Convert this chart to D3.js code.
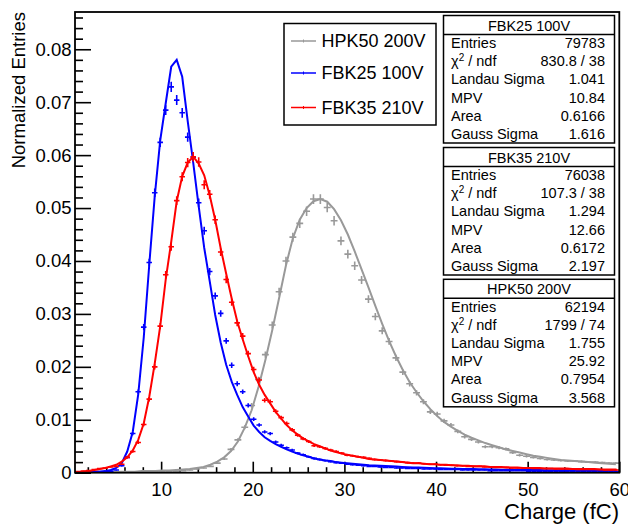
<!DOCTYPE html>
<html><head><meta charset="utf-8">
<script src="https://cdn.jsdelivr.net/npm/d3@7/dist/d3.min.js"></script>
<style>
body{margin:0;background:#fff}
svg{display:block}
text{font-family:"Liberation Sans",Arial,Helvetica,sans-serif;fill:#000}
</style>
</head><body>
<svg id="chart" width="628" height="527"></svg>
<script>
// ---------------- DATA ----------------
const seriesNames = ["HPK50 200V", "FBK25 100V", "FBK35 210V"];
const seriesColors = ["#999999", "#0000ff", "#ff0000"];

// binning (bin centres = low + width*(k+0.5))
const fbkBinLow = 0.6, fbkBinWidth = 0.6, fbkBinCount = 99;
const hpkBinLow = 0.75, hpkBinWidth = 0.75, hpkBinCount = 79;

// FBK25 100V histogram (normalized entries)
const fbk25Data = [
  0.0001,0.0001,0.0001,0.0001,0.0002,0.0002,0.0003,0.0005,0.0013,0.0029,
  0.0074,0.0153,0.0275,0.0397,0.0529,0.0624,0.0685,0.0729,0.0704,0.0680,
  0.0634,0.0596,0.0510,0.0457,0.0380,0.0334,0.0301,0.0249,0.0203,0.0168,
  0.0153,0.0127,0.0101,0.0090,0.0077,0.0074,0.0058,0.0052,0.0047,0.0043,
  0.0037,0.0034,0.0030,0.0027,0.0025,0.0023,0.0021,0.0019,0.0018,0.0016,
  0.0015,0.0014,0.0013,0.0012,0.0012,0.0011,0.0010,0.0010,0.0009,0.0009,
  0.0008,0.0008,0.0008,0.0007,0.0007,0.0007,0.0006,0.0006,0.0006,0.0006,
  0.0005,0.0005,0.0005,0.0005,0.0005,0.0004,0.0004,0.0004,0.0004,0.0004,
  0.0004,0.0004,0.0003,0.0003,0.0003,0.0003,0.0003,0.0003,0.0003,0.0003,
  0.0003,0.0003,0.0003,0.0002,0.0002,0.0002,0.0002,0.0002,0.0002
];
// FBK25 100V fit curve (sampled at bin centres)
const fbk25Fit = [
  0.0001,0.0001,0.0001,0.0002,0.0002,0.0003,0.0005,0.0009,0.0018,0.0040,
  0.0077,0.0148,0.0255,0.0392,0.0522,0.0628,0.0698,0.0767,0.0780,0.0748,
  0.0664,0.0586,0.0503,0.0425,0.0362,0.0298,0.0246,0.0204,0.0172,0.0147,
  0.0124,0.0106,0.0089,0.0077,0.0067,0.0060,0.0054,0.0049,0.0044,0.0040,
  0.0036,0.0033,0.0030,0.0027,0.0025,0.0023,0.0022,0.0020,0.0019,0.0018,
  0.0017,0.0016,0.0015,0.0014,0.00135,0.0013,0.00125,0.0012,0.00115,0.0011,
  0.00105,0.0010,0.00096,0.00092,0.00088,0.00085,0.00082,0.00079,0.00076,0.00074,
  0.00072,0.0007,0.00068,0.00066,0.00064,0.00062,0.0006,0.00058,0.00057,0.00056,
  0.00054,0.00053,0.00052,0.0005,0.00049,0.00048,0.00047,0.00046,0.00045,0.00044,
  0.00043,0.00042,0.00041,0.0004,0.0004,0.00039,0.00038,0.00038,0.00037
];
// FBK35 210V histogram
const fbk35Data = [
  0.0002,0.0003,0.0004,0.0006,0.0008,0.0009,0.0011,0.0012,0.0016,0.0029,
  0.0040,0.0057,0.0091,0.0139,0.0200,0.0277,0.0374,0.0427,0.0514,0.0559,
  0.0586,0.0597,0.0587,0.0544,0.0526,0.0478,0.0417,0.0365,0.0322,0.0283,
  0.0258,0.0225,0.0195,0.0175,0.0137,0.0134,0.0116,0.0104,0.0093,0.0081,
  0.0071,0.0064,0.0059,0.0051,0.0049,0.0046,0.0043,0.0040,0.0037,0.0033,
  0.0032,0.0030,0.0029,0.0027,0.0025,0.0024,0.0023,0.0022,0.0021,0.0020,
  0.0019,0.0018,0.0018,0.0017,0.0016,0.0016,0.0015,0.0014,0.0014,0.0013,
  0.0013,0.0012,0.0012,0.0012,0.0011,0.0011,0.0010,0.0010,0.0010,0.0009,
  0.0009,0.0009,0.0009,0.0008,0.0008,0.0008,0.0008,0.0007,0.0007,0.0007,
  0.0007,0.0006,0.0006,0.0006,0.0006,0.0006,0.0005,0.0005,0.0005
];
// FBK35 210V fit curve
const fbk35Fit = [
  0.0001,0.0002,0.0003,0.0005,0.0007,0.0009,0.0012,0.0015,0.0021,0.0029,
  0.0042,0.0062,0.0093,0.0143,0.0206,0.0277,0.0365,0.0436,0.0513,0.0560,
  0.0586,0.0597,0.0584,0.0562,0.0524,0.0478,0.0424,0.0376,0.0329,0.0286,
  0.0252,0.0220,0.0190,0.0166,0.0147,0.0131,0.0115,0.0102,0.0090,0.0080,
  0.0072,0.0065,0.0059,0.0054,0.0050,0.0046,0.0042,0.0039,0.0036,0.0034,
  0.0032,0.0030,0.0028,0.0026,0.0025,0.0024,0.0023,0.0022,0.0021,0.0020,
  0.0019,0.0018,0.0018,0.0017,0.0016,0.0016,0.0015,0.0015,0.0014,0.0014,
  0.0013,0.0013,0.0012,0.0012,0.0012,0.0011,0.0011,0.0011,0.0010,0.0010,
  0.0010,0.0009,0.0009,0.0009,0.0009,0.0008,0.0008,0.0008,0.0008,0.0008,
  0.0007,0.0007,0.0007,0.0007,0.0007,0.0006,0.0006,0.0006,0.0006
];
// HPK50 200V histogram
const hpk50Data = [
  0,0,0,0,0,0.0001,0.0001,0.0001,0.0001,0.0001,
  0.0001,0.0002,0.0002,0.0002,0.0003,0.0004,0.0005,0.0007,0.0009,0.0012,
  0.0018,0.0026,0.0044,0.0062,0.0086,0.0127,0.0176,0.0223,0.0279,0.0342,
  0.0400,0.0445,0.0471,0.0494,0.0517,0.0517,0.0501,0.0476,0.0438,0.0413,
  0.0391,0.0364,0.0328,0.0295,0.0268,0.0248,0.0217,0.0190,0.0168,0.0151,
  0.0134,0.0115,0.0111,0.0098,0.0090,0.0078,0.0068,0.0063,0.0058,0.0049,
  0.0049,0.0047,0.0045,0.0038,0.0033,0.0031,0.0029,0.0027,0.0025,0.0024,
  0.0023,0.0022,0.0022,0.0021,0.0020,0.0020,0.0019,0.0018,0.0018
];
// HPK50 200V fit curve
const hpk50Fit = [
  0,0,0,0.0001,0.0001,0.0001,0.0002,0.0002,0.0002,0.0003,
  0.0003,0.0003,0.0004,0.0004,0.0005,0.0006,0.0007,0.0009,0.0011,0.0015,
  0.0021,0.0029,0.0041,0.0059,0.0085,0.0118,0.0162,0.0213,0.0269,0.0330,
  0.0392,0.0443,0.0478,0.0500,0.0513,0.0517,0.0512,0.0498,0.0477,0.0450,
  0.0418,0.0384,0.0350,0.0315,0.0281,0.0249,0.0220,0.0194,0.0171,0.0152,
  0.0135,0.0120,0.0107,0.0096,0.0087,0.0079,0.0072,0.0066,0.0061,0.0056,
  0.0052,0.0048,0.0044,0.0041,0.0038,0.0035,0.0032,0.0030,0.0028,0.0026,
  0.0024,0.0023,0.0022,0.0021,0.0020,0.0019,0.0018,0.0017,0.0016
];

// stats boxes
const statTitles = ["FBK25 100V", "FBK35 210V", "HPK50 200V"];
const statEntries = ["79783", "76038", "62194"];
const statChi2 = ["830.8 / 38", "107.3 / 38", "1799 / 74"];
const statLandauSigma = ["1.041", "1.294", "1.755"];
const statMPV = ["10.84", "12.66", "25.92"];
const statArea = ["0.6166", "0.6172", "0.7954"];
const statGaussSigma = ["1.616", "2.197", "3.568"];

// axes
const xTickValues = [10, 20, 30, 40, 50, 60];
const yTickValues = [0, 0.01, 0.02, 0.03, 0.04, 0.05, 0.06, 0.07, 0.08];
const yTickLabels = ["0", "0.01", "0.02", "0.03", "0.04", "0.05", "0.06", "0.07", "0.08"];
const xTitle = "Charge (fC)";
const yTitle = "Normalized Entries";

// ---------------- DRAW ----------------
const svg = d3.select("#chart");
const L = 75, T = 12, R = 619.3, B = 472.7;
const x = d3.scaleLinear().domain([0.6, 60]).range([L, R]);
const y = d3.scaleLinear().domain([0, 0.08704]).range([B, T]);
const FONT = 18.5;

svg.append("defs").append("clipPath").attr("id", "frameClip")
  .append("rect").attr("x", L).attr("y", T).attr("width", R - L).attr("height", B - T);

// minor ticks
const xMinor = d3.range(2, 60.01, 2).filter(v => !xTickValues.includes(v));
const yMinor = d3.range(0.002, 0.0866, 0.002).filter(v => !yTickValues.some(t => Math.abs(t - v) < 1e-9));

const xAxisMinor = d3.axisBottom(x).tickValues(xMinor).tickSize(-5.5).tickFormat("");
const xAxisMajor = d3.axisBottom(x).tickValues(xTickValues).tickSize(-11).tickPadding(10.5).tickFormat(d3.format("d"));
const yAxisMinor = d3.axisLeft(y).tickValues(yMinor).tickSize(-8).tickFormat("");
const yAxisMajor = d3.axisLeft(y).tickValues(yTickValues).tickSize(-16).tickPadding(3.5)
  .tickFormat((d, i) => yTickLabels[i]);

function styleAxis(g) {
  g.select(".domain").remove();
  g.selectAll("line").attr("stroke", "#000").attr("stroke-width", 1.6);
  g.selectAll("text").attr("font-size", FONT).attr("font-family", '"Liberation Sans",Arial,Helvetica,sans-serif').attr("fill", "#000");
}
svg.append("g").attr("transform", `translate(0,${B})`).call(xAxisMinor).call(styleAxis);
svg.append("g").attr("transform", `translate(0,${B})`).call(xAxisMajor).call(styleAxis);
svg.append("g").attr("transform", `translate(${L},0)`).call(yAxisMinor).call(styleAxis);
svg.append("g").attr("transform", `translate(${L},0)`).call(yAxisMajor).call(styleAxis);

// axis titles
svg.append("text").attr("x", 619).attr("y", 519).attr("text-anchor", "end")
  .attr("font-size", 22).text(xTitle);
svg.append("text").attr("transform", `translate(25,12) rotate(-90)`).attr("text-anchor", "end")
  .attr("font-size", 18.5).text(yTitle);

// series
const series = [
  {data: hpk50Data, fit: hpk50Fit, low: hpkBinLow, w: hpkBinWidth, n: hpkBinCount, entries: 62194, color: seriesColors[0]},
  {data: fbk25Data, fit: fbk25Fit, low: fbkBinLow, w: fbkBinWidth, n: fbkBinCount, entries: 79783, color: seriesColors[1]},
  {data: fbk35Data, fit: fbk35Fit, low: fbkBinLow, w: fbkBinWidth, n: fbkBinCount, entries: 76038, color: seriesColors[2]}
];

const plot = svg.append("g").attr("clip-path", "url(#frameClip)");
const line = d3.line().x(d => x(d[0])).y(d => y(d[1])).curve(d3.curveLinear);

series.forEach(s => {
  const centers = d3.range(s.n).map(k => s.low + s.w * (k + 0.5));
  const g = plot.append("g");
  // data points with error bars
  const pts = centers.map((c, i) => ({c, v: s.data[i]})).filter(p => p.v > 0);
  pts.forEach(p => {
    const e = Math.sqrt(p.v / s.entries);
    g.append("line").attr("x1", x(p.c - s.w / 2)).attr("x2", x(p.c + s.w / 2))
      .attr("y1", y(p.v)).attr("y2", y(p.v)).attr("stroke", s.color).attr("stroke-width", 1.6);
    g.append("line").attr("x1", x(p.c)).attr("x2", x(p.c))
      .attr("y1", y(p.v - e)).attr("y2", y(p.v + e)).attr("stroke", s.color).attr("stroke-width", 1.6);
  });
  // fit curve
  g.append("path").datum(centers.map((c, i) => [c, s.fit[i]]))
    .attr("d", line).attr("fill", "none").attr("stroke", s.color).attr("stroke-width", 2);
});

// frame
svg.append("rect").attr("x", L).attr("y", T).attr("width", R - L).attr("height", B - T)
  .attr("fill", "none").attr("stroke", "#000").attr("stroke-width", 1.8);

// legend
const lg = svg.append("g");
lg.append("rect").attr("x", 284).attr("y", 23.5).attr("width", 152).attr("height", 101.5)
  .attr("fill", "#fff").attr("stroke", "#000").attr("stroke-width", 1.5);
const legendY = [41, 73, 107.5];
seriesNames.forEach((nm, i) => {
  lg.append("line").attr("x1", 291).attr("x2", 316).attr("y1", legendY[i]).attr("y2", legendY[i])
    .attr("stroke", seriesColors[i]).attr("stroke-width", 1.5);
  lg.append("line").attr("x1", 303.5).attr("x2", 303.5).attr("y1", legendY[i] - 1.5).attr("y2", legendY[i] + 1.5)
    .attr("stroke", seriesColors[i]).attr("stroke-width", 1);
  lg.append("text").attr("x", 321.5).attr("y", legendY[i] + 6.3).attr("font-size", 18).text(nm);
});

// stats boxes
const boxL = 443.5, boxR = 614.5, boxH = 127.5, titleH = 19;
const boxTops = [15.5, 147.5, 279.3];
const rowLabels = ["Entries", "chi2", "Landau Sigma", "MPV", "Area", "Gauss Sigma"];
statTitles.forEach((t, b) => {
  const top = boxTops[b];
  const g = svg.append("g");
  g.append("rect").attr("x", boxL).attr("y", top).attr("width", boxR - boxL).attr("height", boxH)
    .attr("fill", "#fff").attr("stroke", "#000").attr("stroke-width", 1.5);
  g.append("line").attr("x1", boxL).attr("x2", boxR).attr("y1", top + titleH).attr("y2", top + titleH)
    .attr("stroke", "#000").attr("stroke-width", 1.5);
  g.append("text").attr("x", (boxL + boxR) / 2).attr("y", top + 15).attr("text-anchor", "middle")
    .attr("font-size", 14.5).text(t);
  const vals = [statEntries[b], statChi2[b], statLandauSigma[b], statMPV[b], statArea[b], statGaussSigma[b]];
  const pitch = (boxH - titleH) / 6;
  rowLabels.forEach((lab, j) => {
    const by = top + titleH + pitch * j + 13.8;
    const tx = g.append("text").attr("x", boxL + 7.5).attr("y", by).attr("font-size", 14.5);
    if (lab === "chi2") {
      tx.append("tspan").text("χ");
      tx.append("tspan").attr("font-size", 10).attr("dy", -5.5).text("2");
      tx.append("tspan").attr("dy", 5.5).text(" / ndf");
    } else {
      tx.text(lab);
    }
    g.append("text").attr("x", boxR - 9.5).attr("y", by).attr("text-anchor", "end")
      .attr("font-size", 14.5).text(vals[j]);
  });
});
</script>
</body></html>
